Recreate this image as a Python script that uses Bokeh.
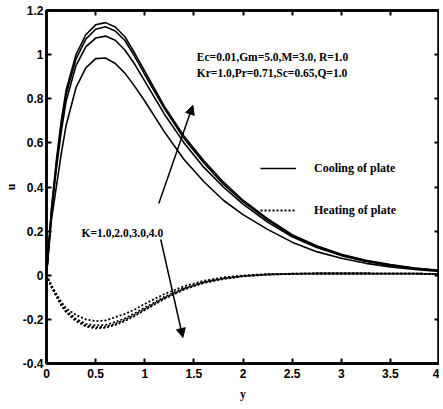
from bokeh.plotting import figure
from bokeh.models import (Range1d, FixedTicker, LinearAxis, Legend, LegendItem,
                          Label, Arrow, NormalHead)
from bokeh.embed import file_html
from bokeh.resources import INLINE

# ---- data ----
y_pts = [0, 0.05, 0.1, 0.15, 0.2, 0.3, 0.4, 0.5, 0.6, 0.7, 0.8, 0.9, 1.0,
         1.2, 1.4, 1.6, 1.8, 2.0, 2.25, 2.5, 2.75, 3.0, 3.25, 3.5, 3.75, 4.0]

# Cooling of plate, K = 1, 2, 3, 4
cool_k1 = [0, 0.25, 0.40, 0.55, 0.68, 0.85, 0.94, 0.982, 0.985, 0.96, 0.915, 0.855, 0.79,
           0.65, 0.525, 0.425, 0.34, 0.275, 0.208, 0.15, 0.107, 0.077, 0.054, 0.038, 0.026, 0.017]
cool_k2 = [0, 0.28, 0.48, 0.65, 0.79, 0.95, 1.035, 1.075, 1.084, 1.065, 1.02, 0.955, 0.88,
           0.73, 0.60, 0.49, 0.40, 0.322, 0.241, 0.174, 0.126, 0.089, 0.063, 0.044, 0.030, 0.020]
cool_k3 = [0, 0.29, 0.50, 0.68, 0.82, 0.98, 1.07, 1.115, 1.126, 1.107, 1.063, 0.99, 0.91,
           0.755, 0.62, 0.51, 0.413, 0.334, 0.25, 0.179, 0.13, 0.092, 0.065, 0.046, 0.032, 0.021]
cool_k4 = [0, 0.30, 0.52, 0.70, 0.84, 1.00, 1.09, 1.135, 1.145, 1.125, 1.08, 1.005, 0.925,
           0.765, 0.63, 0.52, 0.423, 0.34, 0.257, 0.184, 0.134, 0.095, 0.068, 0.048, 0.033, 0.022]

# Heating of plate, K = 1, 2, 3, 4
heat_k1 = [0, -0.045, -0.085, -0.12, -0.15, -0.18, -0.20, -0.208, -0.205, -0.19, -0.175, -0.155, -0.13,
           -0.085, -0.05, -0.025, -0.01, -0.001, 0.005, 0.007, 0.008, 0.008, 0.008, 0.007, 0.007, 0.006]
heat_k2 = [0, -0.05, -0.09, -0.13, -0.16, -0.197, -0.22, -0.228, -0.225, -0.212, -0.195, -0.172, -0.147,
           -0.098, -0.058, -0.03, -0.013, -0.003, 0.004, 0.007, 0.008, 0.008, 0.008, 0.007, 0.007, 0.006]
heat_k3 = [0, -0.052, -0.093, -0.133, -0.165, -0.204, -0.227, -0.236, -0.233, -0.22, -0.202, -0.179, -0.153,
           -0.103, -0.062, -0.033, -0.015, -0.004, 0.003, 0.006, 0.008, 0.008, 0.008, 0.007, 0.007, 0.006]
heat_k4 = [0, -0.053, -0.095, -0.136, -0.168, -0.208, -0.232, -0.241, -0.238, -0.225, -0.207, -0.184, -0.158,
           -0.107, -0.065, -0.035, -0.017, -0.005, 0.003, 0.006, 0.008, 0.008, 0.008, 0.007, 0.007, 0.006]

x_ticks = [0, 0.5, 1, 1.5, 2, 2.5, 3, 3.5, 4]
x_tick_labels = ["0", "0.5", "1", "1.5", "2", "2.5", "3", "3.5", "4"]
u_ticks = [-0.4, -0.2, 0, 0.2, 0.4, 0.6, 0.8, 1, 1.2]
u_tick_labels = ["-0.4", "-0.2", "0", "0.2", "0.4", "0.6", "0.8", "1", "1.2"]

legend_labels = ["Cooling of plate", "Heating of plate"]
param_line1 = "Ec=0.01,Gm=5.0,M=3.0, R=1.0"
param_line2 = "Kr=1.0,Pr=0.71,Sc=0.65,Q=1.0"
k_label = "K=1.0,2.0,3.0,4.0"

# ---- figure ----
p = figure(frame_width=393, frame_height=353, output_backend="svg", toolbar_location=None,
           x_range=Range1d(0, 4), y_range=Range1d(-0.4, 1.2),
           min_border_left=39, min_border_right=0, min_border_top=10, min_border_bottom=32)
p.background_fill_color = "white"
p.border_fill_color = "white"
p.grid.visible = False
p.outline_line_color = "black"
p.outline_line_width = 2.5

tick_font = "Liberation Sans"
serif = "Liberation Serif"

xa = p.xaxis[0]
ya = p.yaxis[0]
xa.ticker = FixedTicker(ticks=x_ticks)
ya.ticker = FixedTicker(ticks=u_ticks)
xa.major_label_overrides = dict(zip(x_ticks, x_tick_labels))
ya.major_label_overrides = dict(zip(u_ticks, u_tick_labels))
for ax in (xa, ya):
    ax.major_label_text_font = tick_font
    ax.major_label_text_font_style = "bold"
    ax.major_label_text_font_size = "12px"
    ax.major_label_text_color = "black"
    ax.major_tick_in = 5
    ax.major_tick_out = 0
    ax.minor_tick_line_color = None
    ax.major_tick_line_width = 2
    ax.axis_line_width = 2.5
    ax.axis_label_text_font = serif
    ax.axis_label_text_font_style = "bold"
    ax.axis_label_text_font_size = "12px"
    ax.axis_label_text_color = "black"
xa.axis_label = "y"
ya.axis_label = "u"
xa.major_label_standoff = 5
ya.major_label_standoff = 3
xa.axis_label_standoff = 6
ya.axis_label_standoff = 2

# mirrored tick marks on top and right
top = LinearAxis(ticker=FixedTicker(ticks=x_ticks), major_label_text_font_size="0px",
                 major_label_standoff=0, major_tick_in=5, major_tick_out=0,
                 minor_tick_line_color=None, major_tick_line_width=2, axis_line_width=2.5)
right = LinearAxis(ticker=FixedTicker(ticks=u_ticks), major_label_text_font_size="0px",
                   major_label_standoff=0, major_tick_in=5, major_tick_out=0,
                   minor_tick_line_color=None, major_tick_line_width=2, axis_line_width=2.5)
p.add_layout(top, "above")
p.add_layout(right, "right")

cool_r = None
for series in (cool_k1, cool_k2, cool_k3, cool_k4):
    cool_r = p.line(y_pts, series, line_color="black", line_width=1.6)
heat_r = None
for series in (heat_k1, heat_k2, heat_k3, heat_k4):
    heat_r = p.line(y_pts, series, line_color="black", line_width=1.8, line_dash="2 2")

legend = Legend(items=[LegendItem(label=legend_labels[0], renderers=[cool_r]),
                       LegendItem(label=legend_labels[1], renderers=[heat_r])],
                location=(214, 145), orientation="vertical",
                background_fill_alpha=0, border_line_color=None,
                padding=0, margin=0, spacing=26,
                glyph_width=36, glyph_height=16, label_height=16,
                label_standoff=18,
                label_text_font=serif, label_text_font_style="bold",
                label_text_font_size="12px", label_text_color="black")
p.add_layout(legend, "center")

for txt, lx, ly in ((param_line1, 1.53, 0.987), (param_line2, 1.53, 0.915), (k_label, 0.357, 0.193)):
    p.add_layout(Label(x=lx, y=ly, text=txt, text_font=serif, text_font_style="bold",
                       text_font_size="11.5px", text_color="black", text_baseline="middle"))

p.add_layout(Arrow(end=NormalHead(size=9, fill_color="black", line_color="black"),
                   x_start=1.143, y_start=0.325, x_end=1.49, y_end=0.77,
                   line_color="black", line_width=1.5))
p.add_layout(Arrow(end=NormalHead(size=9, fill_color="black", line_color="black"),
                   x_start=1.163, y_start=0.162, x_end=1.388, y_end=-0.282,
                   line_color="black", line_width=1.5))

open("out.html", "w").write(file_html(p, INLINE))
